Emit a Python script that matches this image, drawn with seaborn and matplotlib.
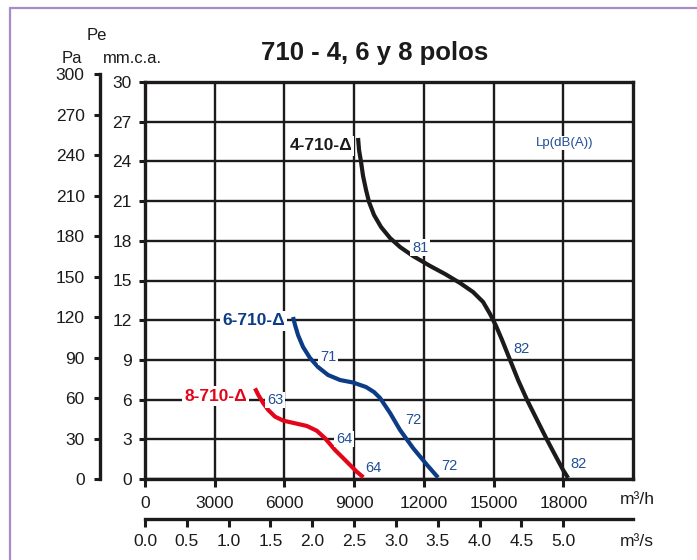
import numpy as np
import pandas as pd
import matplotlib
matplotlib.use("Agg")
import matplotlib.pyplot as plt
from matplotlib import font_manager as fm
from matplotlib.lines import Line2D
import seaborn as sns

# ---------------- data ----------------
# Curve 4-710 (flow m3/h, pressure mm.c.a.)
q4 = [9168, 9211, 9297, 9383, 9512, 9641, 9856, 10158, 10545, 10976, 11535, 12267,
      12913, 13558, 14117, 14548, 14849, 15108, 15366, 15710, 16055, 16442, 16872,
      17303, 17647, 17992, 18207]
p4 = [25.77, 24.86, 23.96, 22.90, 21.84, 20.93, 19.95, 19.04, 18.21, 17.53, 16.85, 16.10,
      15.49, 14.81, 14.13, 13.38, 12.47, 11.56, 10.50, 8.99, 7.48, 5.97, 4.46,
      2.95, 1.81, 0.68, 0.08]
# Curve 6-710
q6 = [6370, 6456, 6585, 6800, 7102, 7446, 7877, 8393, 8953, 9512, 9856, 10115,
      10545, 10976, 11535, 12138, 12611]
p6 = [12.24, 11.64, 10.88, 9.98, 9.14, 8.46, 7.86, 7.48, 7.29, 6.95, 6.57, 6.12,
      4.99, 3.70, 2.34, 1.06, 0.11]
# Curve 8-710
q8 = [4735, 4877, 5092, 5307, 5595, 5953, 6456, 6960, 7390, 7747, 8178, 8681, 9111, 9397]
p8 = [6.85, 6.35, 5.72, 5.21, 4.71, 4.41, 4.21, 4.01, 3.65, 3.08, 2.19, 1.31, 0.55, 0.13]

curve_names = ["4-710-Δ", "6-710-Δ", "8-710-Δ"]
curve_colors = ["#1c1a1a", "#0b3c85", "#e3061b"]
label_x = [8910, 6026, 4390]
label_y = [25.17, 11.94, 6.27]

# Sound level labels Lp dB(A)
lp_text = ["81", "82", "82", "71", "72", "72", "63", "64", "64"]
lp_x = [11836, 16183, 18637, 7877, 11535, 13084, 5595, 8565, 9813]
lp_y = [17.46, 9.83, 1.13, 9.22, 4.46, 0.98, 5.97, 3.02, 0.83]
lp_boxed = [True, False, False, True, False, False, True, True, False]

q_ticks = [0, 3000, 6000, 9000, 12000, 15000, 18000]
mm_ticks = list(range(0, 31, 3))
pa_ticks = list(range(0, 301, 30))
qs_ticks = [0.0, 0.5, 1.0, 1.5, 2.0, 2.5, 3.0, 3.5, 4.0, 4.5, 5.0]

title = "710 - 4, 6 y 8 polos"

# ---------------- style ----------------
sns.set_theme(style="white")
names = {f.name for f in fm.fontManager.ttflist}
FONT = "Liberation Sans Narrow" if "Liberation Sans Narrow" in names else "Liberation Sans"
plt.rcParams["font.family"] = [FONT, "DejaVu Sans"]
INK = "#1c1a1a"
BLUE_TXT = "#1f4f97"

W, H = 697, 560
fig = plt.figure(figsize=(W / 100, H / 100), dpi=100)


def rect(x0, y0, x1, y1):
    return [x0 / W, 1 - y1 / H, (x1 - x0) / W, (y1 - y0) / H]


ax = fig.add_axes(rect(145, 82, 633, 479))

df = pd.concat([
    pd.DataFrame({"q": q4, "p": p4, "curve": curve_names[0]}),
    pd.DataFrame({"q": q6, "p": p6, "curve": curve_names[1]}),
    pd.DataFrame({"q": q8, "p": p8, "curve": curve_names[2]}),
])
sns.lineplot(data=df, x="q", y="p", hue="curve", palette=dict(zip(curve_names, curve_colors)),
             sort=False, estimator=None, legend=False, linewidth=3.0, ax=ax, zorder=3,
             solid_joinstyle="round", solid_capstyle="butt")

ax.set_xlim(0, 21000)
ax.set_ylim(0, 30)
ax.set_xticks(q_ticks)
ax.set_yticks(mm_ticks)
ax.set_xticklabels([str(t) for t in q_ticks])
ax.set_yticklabels([str(t) for t in mm_ticks])
ax.set_xlabel("")
ax.set_ylabel("")
ax.grid(True, color=INK, linewidth=1.7)
ax.set_axisbelow(True)
for s in ax.spines.values():
    s.set_visible(True)
    s.set_color(INK)
    s.set_linewidth(2.4)
ax.tick_params(axis="x", direction="out", length=6, width=2.2, color=INK,
               labelsize=12.5, labelcolor=INK, pad=6, bottom=True)
ax.tick_params(axis="y", direction="out", length=4.5, width=2.2, color=INK,
               labelsize=12.5, labelcolor=INK, pad=5, left=True)

# secondary flow axis in m3/s
sec = ax.secondary_xaxis(-0.1008, functions=(lambda x: x / 3600.0, lambda s: s * 3600.0))
sec.set_xticks(qs_ticks)
sec.set_xticklabels([f"{t:.1f}" for t in qs_ticks])
sec.spines["bottom"].set_color(INK)
sec.spines["bottom"].set_linewidth(2.4)
sec.tick_params(axis="x", direction="out", length=5.5, width=2.2, color=INK,
                labelsize=12.5, labelcolor=INK, pad=5)

# Pa axis (1 mm.c.a. = 9.80665 Pa)
pos = ax.get_position()
pa_h = pos.height * (300 / 9.80665) / 30
axpa = fig.add_axes([100 / W, pos.y0, 0.0001, pa_h])
axpa.set_ylim(0, 300)
axpa.set_yticks(pa_ticks)
axpa.set_yticklabels([str(t) for t in pa_ticks])
axpa.patch.set_visible(False)
axpa.xaxis.set_visible(False)
for k in ["top", "right", "bottom"]:
    axpa.spines[k].set_visible(False)
axpa.spines["left"].set_color(INK)
axpa.spines["left"].set_linewidth(2.4)
axpa.tick_params(axis="y", direction="out", length=4, width=2.2, color=INK,
                 labelsize=12.5, labelcolor=INK, pad=7, left=True)

# curve labels
for name, col, lx, ly in zip(curve_names, curve_colors, label_x, label_y):
    ax.text(lx, ly, name, ha="right", va="center", fontsize=12.5, fontweight="bold",
            color=col, zorder=4, family=[FONT, "DejaVu Sans"],
            bbox=dict(boxstyle="square,pad=0.12", fc="white", ec="none"))

# sound level labels
for t, x, y, b in zip(lp_text, lp_x, lp_y, lp_boxed):
    kw = dict(bbox=dict(boxstyle="square,pad=0.1", fc="white", ec="none")) if b else {}
    ax.text(x, y, t, ha="center", va="center", fontsize=10.5, color=BLUE_TXT, zorder=4, **kw)
ax.text(18077, 25.4, "Lp(dB(A))", ha="center", va="center", fontsize=9.5, color=BLUE_TXT,
        zorder=4, bbox=dict(boxstyle="square,pad=0.1", fc="white", ec="none"))

# titles and axis unit labels
fig.text(375 / W, 1 - 60 / H, title, ha="center", va="baseline", fontsize=18.5,
         fontweight="bold", color=INK)
fig.text(97 / W, 1 - 40 / H, "Pe", ha="center", va="baseline", fontsize=12, color=INK)
fig.text(72 / W, 1 - 63 / H, "Pa", ha="center", va="baseline", fontsize=12, color=INK)
fig.text(132 / W, 1 - 63 / H, "mm.c.a.", ha="center", va="baseline", fontsize=12, color=INK)
fig.text(637 / W, 1 - 500 / H, "m³/h", ha="center", va="center", fontsize=12.5, color=INK)
fig.text(637 / W, 1 - 541 / H, "m³/s", ha="center", va="center", fontsize=12.5, color=INK)

# purple page border
fig.add_artist(Line2D([10 / W, 1], [1 - 8 / H, 1 - 8 / H], color="#a68cc8", lw=1.6,
                      transform=fig.transFigure))
fig.add_artist(Line2D([10 / W, 10 / W], [1 - 8 / H, 0], color="#a68cc8", lw=1.6,
                      transform=fig.transFigure))

fig.savefig("out.png", dpi=100, facecolor="white")
